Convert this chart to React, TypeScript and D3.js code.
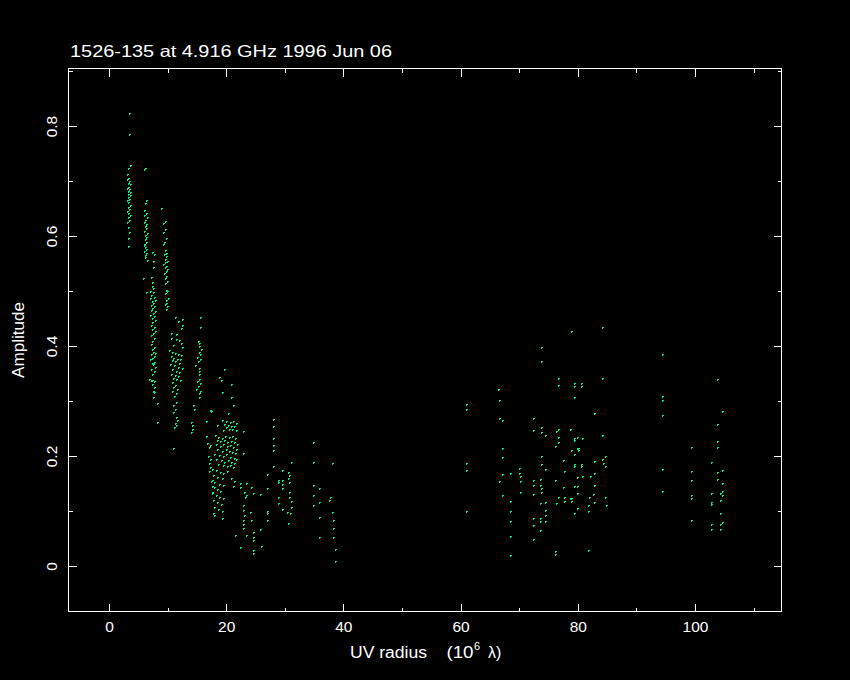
import React from 'react';
import * as d3 from 'd3';

const TITLE = '1526-135 at 4.916 GHz 1996 Jun 06';
const Y_LABEL = 'Amplitude';
const xMajor = [0, 20, 40, 60, 80, 100];
const xMinor = [10, 30, 50, 70, 90, 110];
const yMajor = [0, 0.2, 0.4, 0.6, 0.8];
const yMinor = [0.1, 0.3, 0.5, 0.7, 0.9];
const xTickLabels = ['0', '20', '40', '60', '80', '100'];
const yTickLabels = ['0', '0.2', '0.4', '0.6', '0.8'];

// [uv radius (10^6 lambda), amplitude]
const colA = [[3.4,0.823],[3.4,0.785],[3.5,0.730],[3.2,0.724],[3.1,0.712],[3.3,0.706],[3.0,0.703],[3.4,0.700],[3.2,0.697],[3.5,0.694],[3.3,0.690],[3.1,0.688],[3.4,0.685],[3.2,0.682],[3.6,0.680],[3.3,0.677],[3.5,0.674],[3.2,0.671],[3.4,0.668],[3.1,0.665],[3.3,0.661],[3.5,0.657],[3.2,0.653],[3.4,0.650],[3.1,0.646],[3.3,0.642],[3.5,0.639],[3.2,0.635],[3.4,0.630],[3.1,0.626],[3.3,0.617],[3.4,0.607],[3.2,0.596],[3.3,0.581]];
const colB = [[6.1,0.724],[6.0,0.722],[6.4,0.665],[6.2,0.660],[5.9,0.648],[6.3,0.641],[6.0,0.638],[6.5,0.634],[6.2,0.629],[5.9,0.626],[6.4,0.622],[6.1,0.618],[6.3,0.614],[6.0,0.610],[6.5,0.606],[6.2,0.602],[6.4,0.599],[6.1,0.594],[6.3,0.590],[5.9,0.586],[6.2,0.580],[6.4,0.576],[6.0,0.572],[6.3,0.569],[6.1,0.562],[6.5,0.556],[5.8,0.524],[6.4,0.499],[6.0,0.584],[6.2,0.565]];
const colC = [[7.4,0.571],[7.6,0.567],[7.5,0.555],[7.5,0.544],[7.2,0.526],[7.4,0.517],[7.3,0.510],[7.5,0.505],[7.0,0.500],[7.5,0.499],[7.2,0.493],[7.6,0.490],[7.0,0.487],[7.8,0.484],[7.3,0.481],[7.5,0.478],[7.1,0.475],[7.7,0.472],[7.4,0.469],[7.2,0.466],[7.9,0.463],[7.5,0.460],[7.0,0.457],[7.6,0.454],[7.3,0.451],[7.8,0.447],[7.4,0.443],[7.1,0.438],[7.6,0.435],[7.3,0.431],[7.9,0.427],[7.5,0.424],[7.2,0.420],[7.6,0.415],[7.4,0.409],[7.1,0.403],[7.7,0.399],[7.3,0.394],[7.5,0.390],[7.8,0.388],[7.2,0.385],[7.6,0.381],[7.4,0.379],[7.0,0.376],[7.7,0.371],[7.3,0.369],[7.5,0.367],[7.8,0.361],[7.2,0.358],[7.6,0.354],[7.4,0.349],[6.8,0.340],[7.1,0.339],[7.4,0.339],[7.6,0.337],[7.3,0.331],[7.7,0.325],[7.5,0.319],[7.6,0.316],[7.5,0.308],[8.2,0.296],[8.2,0.262]];
const colD = [[8.9,0.651],[9.5,0.628],[9.2,0.623],[9.6,0.613],[9.3,0.608],[9.7,0.596],[9.4,0.590],[9.2,0.585],[9.6,0.575],[9.8,0.570],[9.4,0.567],[9.7,0.564],[9.5,0.558],[9.9,0.555],[9.6,0.552],[9.3,0.550],[9.8,0.546],[9.5,0.544],[9.9,0.540],[9.7,0.536],[9.4,0.532],[9.8,0.528],[9.6,0.523],[9.9,0.519],[9.5,0.514],[9.7,0.502],[9.9,0.500],[9.6,0.496],[10.0,0.487],[9.7,0.484],[9.8,0.478],[9.6,0.476],[9.9,0.472],[9.7,0.467]];
const colE = [[11.2,0.453],[12.4,0.449],[11.8,0.445],[12.4,0.438],[12.3,0.432],[10.6,0.424],[11.5,0.421],[10.6,0.415],[11.4,0.413],[11.9,0.411],[12.3,0.405],[11.0,0.402],[12.4,0.398],[10.3,0.392],[10.7,0.390],[11.2,0.388],[11.8,0.386],[12.3,0.384],[10.5,0.381],[11.0,0.379],[11.6,0.377],[12.1,0.376],[10.7,0.374],[11.3,0.372],[11.9,0.369],[10.4,0.367],[11.1,0.365],[11.7,0.362],[12.4,0.360],[10.8,0.358],[11.4,0.355],[12.0,0.353],[10.6,0.350],[11.2,0.348],[11.8,0.345],[10.9,0.342],[11.5,0.340],[12.2,0.338],[10.7,0.334],[11.3,0.330],[11.0,0.326],[11.6,0.322],[10.8,0.318],[11.4,0.314],[11.1,0.310],[11.5,0.298],[10.9,0.292],[11.3,0.285],[11.0,0.280],[11.4,0.271],[11.6,0.265],[11.2,0.260],[11.5,0.256],[11.1,0.253],[11.0,0.215]];
const colF = [[15.5,0.453],[15.6,0.435],[15.2,0.410],[15.4,0.405],[15.3,0.400],[15.7,0.394],[15.4,0.390],[15.5,0.385],[15.0,0.380],[15.6,0.376],[15.2,0.372],[14.6,0.365],[15.4,0.360],[15.3,0.354],[15.4,0.350],[15.3,0.340],[15.0,0.336],[15.5,0.332],[15.2,0.328],[14.8,0.322],[15.6,0.318],[15.3,0.315],[15.4,0.308],[14.3,0.292],[14.5,0.286],[14.0,0.262],[14.2,0.256],[14.1,0.250],[14.0,0.244]];
const blobTop = [[19.7,0.358],[18.8,0.343],[19.1,0.338],[20.8,0.331],[19.2,0.316],[20.8,0.308],[21.1,0.293],[20.3,0.278],[17.4,0.282],[17.2,0.284],[16.5,0.264],[18.4,0.256],[19.3,0.265],[20.0,0.263],[20.6,0.262],[21.2,0.264],[21.6,0.260],[19.6,0.258],[20.3,0.257],[20.9,0.255],[21.4,0.254],[19.9,0.252],[20.5,0.250],[21.0,0.249],[21.7,0.248],[19.4,0.247],[22.8,0.246]];
const blobMid = [[16.6,0.236],[16.8,0.224],[17.3,0.220],[17.0,0.217],[18.1,0.238],[18.6,0.235],[19.2,0.233],[19.8,0.236],[20.4,0.234],[21.0,0.237],[21.5,0.232],[18.4,0.229],[19.0,0.227],[19.6,0.230],[20.2,0.226],[20.8,0.228],[21.3,0.225],[21.8,0.222],[18.2,0.221],[18.9,0.219],[19.5,0.222],[20.1,0.218],[20.6,0.220],[21.2,0.216],[21.6,0.213],[18.5,0.212],[19.3,0.210],[19.9,0.213],[20.5,0.209],[21.0,0.207],[21.5,0.205],[22.8,0.205],[18.0,0.204],[18.7,0.202],[19.4,0.200],[20.0,0.203],[20.7,0.199],[21.3,0.197],[21.7,0.195],[18.3,0.194],[19.1,0.192],[19.7,0.190],[20.3,0.193],[20.9,0.189],[21.4,0.187],[18.6,0.185],[19.4,0.183],[20.1,0.181],[20.7,0.184],[21.2,0.180],[16.9,0.200],[17.2,0.195],[17.0,0.188],[17.3,0.180],[17.1,0.172]];
const blobLow = [[17.6,0.176],[18.2,0.174],[18.9,0.171],[19.5,0.169],[20.2,0.172],[17.8,0.165],[18.5,0.162],[19.2,0.160],[20.9,0.160],[21.3,0.155],[17.5,0.156],[18.0,0.153],[18.7,0.150],[19.4,0.147],[21.1,0.146],[17.9,0.144],[18.4,0.140],[19.0,0.137],[17.6,0.133],[18.2,0.130],[18.8,0.126],[19.5,0.123],[17.8,0.120],[18.5,0.116],[19.1,0.112],[17.9,0.107],[18.6,0.103],[19.3,0.100],[17.7,0.096],[19.3,0.087],[18.0,0.092],[17.4,0.155],[17.6,0.145],[17.5,0.135]];
const colJ = [[22.3,0.151],[23.3,0.151],[22.3,0.144],[23.1,0.135],[23.4,0.130],[23.2,0.126],[22.8,0.111],[22.8,0.102],[23.1,0.093],[22.8,0.084],[22.8,0.076],[22.8,0.069],[24.3,0.144],[24.5,0.133],[24.1,0.098],[24.3,0.084],[24.5,0.062],[24.5,0.053],[24.5,0.047],[23.4,0.056],[24.5,0.029],[24.5,0.024],[22.3,0.035],[21.5,0.056],[25.7,0.131],[25.7,0.067],[25.9,0.036]];
const colKLM = [[27.0,0.167],[27.0,0.142],[27.0,0.100],[27.0,0.096],[27.0,0.084],[28.0,0.267],[28.0,0.255],[28.0,0.233],[28.0,0.220],[28.0,0.211],[28.0,0.182],[31.0,0.189],[30.5,0.171],[30.7,0.165],[30.6,0.160],[30.8,0.153],[29.5,0.175],[28.8,0.156],[28.8,0.153],[29.5,0.156],[29.6,0.149],[29.5,0.142],[30.8,0.135],[28.8,0.126],[30.8,0.126],[31.0,0.118],[31.1,0.107],[28.8,0.114],[29.5,0.104],[30.3,0.098],[30.9,0.096],[30.6,0.078]];
const colNO = [[34.8,0.225],[34.8,0.189],[34.8,0.147],[34.8,0.129],[34.8,0.111],[35.9,0.142],[35.9,0.116],[35.9,0.089],[35.9,0.053],[38.0,0.187],[37.7,0.126],[37.5,0.120],[38.0,0.098],[38.2,0.084],[38.3,0.069],[38.3,0.053],[38.5,0.031],[38.5,0.009]];
const grp61 = [[61.0,0.295],[61.0,0.286],[61.0,0.188],[61.0,0.175],[61.0,0.100]];
const grp66 = [[66.4,0.322],[66.5,0.302],[66.5,0.270],[67.0,0.265],[67.0,0.215],[67.0,0.199],[67.0,0.167],[66.5,0.155],[67.0,0.130],[68.4,0.170],[68.4,0.118],[68.4,0.100],[68.4,0.082],[68.5,0.055],[68.5,0.020],[70.0,0.179],[70.1,0.164],[70.1,0.155],[70.1,0.135],[69.9,0.169]];
const grp73 = [[72.3,0.270],[72.3,0.247],[72.3,0.156],[72.3,0.147],[72.3,0.131],[72.3,0.087],[72.4,0.075],[72.3,0.050],[73.7,0.399],[73.7,0.373],[73.8,0.253],[73.8,0.244],[74.4,0.238],[73.8,0.200],[73.8,0.185],[74.4,0.176],[73.5,0.159],[73.5,0.147],[73.7,0.141],[73.7,0.135],[73.5,0.115],[74.4,0.117],[74.4,0.102],[74.4,0.093],[73.5,0.087],[73.5,0.082],[74.4,0.082],[73.5,0.065]];
const grp77 = [[76.7,0.342],[76.6,0.329],[76.7,0.250],[76.2,0.246],[76.7,0.235],[76.7,0.226],[76.1,0.218],[77.4,0.193],[77.6,0.173],[76.1,0.156],[77.4,0.143],[76.7,0.126],[77.6,0.125],[77.6,0.118],[76.2,0.115],[76.1,0.028],[76.1,0.022]];
const grp80 = [[78.9,0.428],[79.4,0.333],[79.4,0.327],[79.3,0.308],[78.7,0.250],[79.3,0.233],[79.4,0.229],[79.9,0.235],[80.7,0.233],[78.9,0.211],[79.3,0.203],[79.8,0.215],[80.1,0.211],[79.4,0.181],[79.4,0.185],[80.6,0.185],[80.6,0.181],[79.9,0.161],[79.3,0.146],[79.9,0.146],[80.7,0.164],[79.9,0.132],[78.9,0.124],[78.9,0.119],[79.9,0.105],[79.3,0.096],[78.7,0.124],[80.6,0.332],[80.6,0.327],[80.0,0.214]];
const grp83 = [[82.7,0.279],[82.7,0.191],[82.7,0.170],[82.0,0.164],[82.7,0.147],[82.6,0.131],[81.9,0.126],[81.8,0.111],[82.7,0.117],[81.8,0.100],[81.8,0.030],[84.2,0.435],[84.1,0.341],[84.1,0.238],[84.7,0.200],[84.2,0.194],[84.3,0.188],[84.6,0.181],[84.6,0.126],[84.8,0.111]];
const grp94 = [[94.4,0.385],[94.4,0.310],[94.4,0.301],[94.4,0.275],[94.4,0.177],[94.4,0.136],[99.4,0.217],[99.4,0.173],[99.4,0.156],[99.4,0.130],[99.4,0.124],[99.4,0.084]];
const grp104 = [[103.7,0.340],[104.6,0.281],[103.7,0.258],[103.7,0.227],[103.7,0.217],[102.7,0.190],[103.7,0.171],[104.6,0.175],[103.7,0.159],[104.6,0.151],[102.7,0.133],[104.6,0.136],[104.3,0.133],[104.6,0.130],[104.3,0.120],[102.7,0.116],[102.7,0.112],[104.3,0.096],[104.6,0.080],[104.3,0.076],[102.7,0.076],[102.7,0.067],[104.3,0.067]];

const allPoints = [colA, colB, colC, colD, colE, colF, blobTop, blobMid, blobLow, colJ, colKLM, colNO, grp61, grp66, grp73, grp77, grp80, grp83, grp94, grp104].flat();

const W = 850, H = 680;
const L = 68.5, R = 781.5, T = 68.5, B = 611.5;
const FONT = '"Liberation Sans", Arial, sans-serif';
const DOT = '#00ee80';

export default function App() {
  const x = d3.scaleLinear().domain([-6.996, 114.68]).range([L, R]);
  const y = d3.scaleLinear().domain([-0.0818, 0.9055]).range([B, T]);
  const px = (v: number) => Math.round(x(v) - 0.5) + 0.5;
  const py = (v: number) => Math.round(y(v) - 0.5) + 0.5;

  const dotPath = allPoints.map(([u, a]) => {
    const x0 = Math.round(x(u) - 0.5);
    const y0 = Math.round(y(a) - 0.5);
    return `M${x0},${y0}h2v1h-1v1h-1z`;
  }).join('');

  return (
    <svg width={W} height={H} style={{ position: 'absolute', left: 0, top: 0, display: 'block' }}>
      <rect x={0} y={0} width={W} height={H} fill="#000" />
      <g stroke="#fff" strokeWidth={1} fill="none" shapeRendering="crispEdges">
        <rect x={L} y={T} width={R - L} height={B - T} />
        {xMajor.map((t) => (
          <g key={'xM' + t}>
            <line x1={px(t)} x2={px(t)} y1={B} y2={B - 8} />
            <line x1={px(t)} x2={px(t)} y1={T} y2={T + 8} />
          </g>
        ))}
        {xMinor.map((t) => (
          <g key={'xm' + t}>
            <line x1={px(t)} x2={px(t)} y1={B} y2={B - 4} />
            <line x1={px(t)} x2={px(t)} y1={T} y2={T + 4} />
          </g>
        ))}
        {yMajor.map((t) => (
          <g key={'yM' + t}>
            <line x1={L} x2={L + 8} y1={py(t)} y2={py(t)} />
            <line x1={R} x2={R - 8} y1={py(t)} y2={py(t)} />
          </g>
        ))}
        {yMinor.map((t) => (
          <g key={'ym' + t}>
            <line x1={L} x2={L + 4} y1={py(t)} y2={py(t)} />
            <line x1={R} x2={R - 4} y1={py(t)} y2={py(t)} />
          </g>
        ))}
      </g>
      <path d={dotPath} fill={DOT} shapeRendering="crispEdges" />
      <g fill="#fff" fontFamily={FONT}>
        <text x={70} y={56.5} fontSize={16.5} textLength={322} lengthAdjust="spacingAndGlyphs">{TITLE}</text>
        {xMajor.map((t, i) => (
          <text key={'xl' + t} x={x(t)} y={632} fontSize={15.5} textAnchor="middle">{xTickLabels[i]}</text>
        ))}
        {yMajor.map((t, i) => (
          <text key={'yl' + t} transform={`translate(56.5,${y(t)}) rotate(-90)`} fontSize={15.5} textAnchor="middle">{yTickLabels[i]}</text>
        ))}
        <text transform="translate(23.5,340) rotate(-90)" fontSize={16} textAnchor="middle" textLength={76} lengthAdjust="spacingAndGlyphs">{Y_LABEL}</text>
        <text x={350} y={658} fontSize={16} textLength={77} lengthAdjust="spacingAndGlyphs">UV radius</text>
        <text x={446.5} y={658} fontSize={16} textLength={27} lengthAdjust="spacingAndGlyphs">(10</text>
        <text x={474} y={650} fontSize={11}>6</text>
        <text x={488} y={658} fontSize={16}>λ)</text>
      </g>
    </svg>
  );
}
